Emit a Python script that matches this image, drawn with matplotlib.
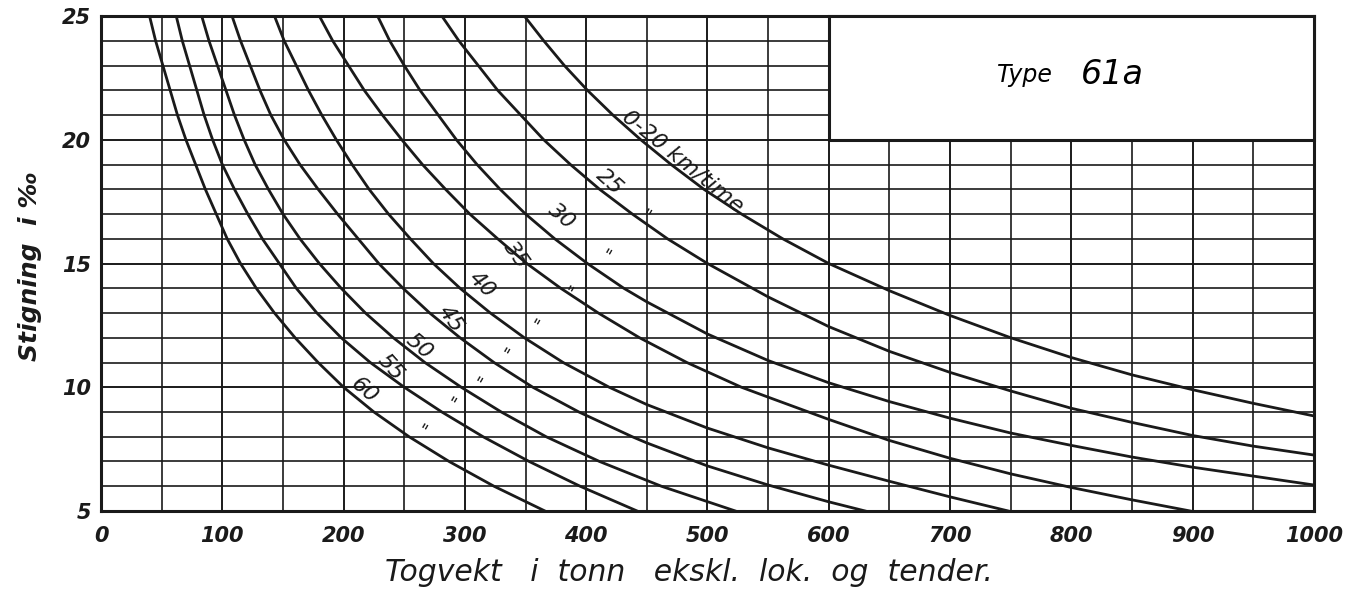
import matplotlib
matplotlib.use('Agg')
import matplotlib.pyplot as plt
from matplotlib.patches import Rectangle

# togvekt (tonn) og stigning (promille) for hver fart
grad = [25, 24, 23, 22, 21, 20, 19, 18, 17, 16, 15, 14, 13, 12, 11, 10, 9, 8, 7, 6, 5]
t_60 = [40, 45, 51, 57, 63, 70, 78, 86, 95, 104, 115, 128, 143, 160, 179, 200, 225, 254, 287, 324, 366]
t_55 = [62, 67, 73, 79, 85, 92, 100, 110, 121, 133, 147, 161, 178, 198, 222, 250, 281, 315, 353, 395, 442]
t_50 = [83, 89, 96, 103, 110, 118, 127, 138, 150, 164, 180, 198, 218, 241, 267, 297, 330, 367, 411, 462, 523]

t_45 = [108, 115, 123, 131, 140, 151, 164, 179, 195, 212, 229, 249, 271, 296, 324, 356, 394, 438,
        450, 500, 550, 600, 630]
g_45 = [25, 24, 23, 22, 21, 20, 19, 18, 17, 16, 15, 14, 13, 12, 11, 10, 9, 8,
        7.75, 6.82, 6.05, 5.37, 5]

t_40 = [143, 151, 161, 171, 182, 194, 207, 221, 237, 255, 274, 296, 321, 349, 381, 419,
        450, 500, 550, 600, 650, 700, 748]
g_40 = [25, 24, 23, 22, 21, 20, 19, 18, 17, 16, 15, 14, 13, 12, 11, 10,
        9.3, 8.35, 7.55, 6.85, 6.2, 5.57, 5]

t_35 = [180, 191, 204, 217, 232, 248, 265, 284, 304, 327, 351, 379, 410, 444, 483, 528,
        550, 600, 650, 700, 750, 800, 850, 898]
g_35 = [25, 24, 23, 22, 21, 20, 19, 18, 17, 16, 15, 14, 13, 12, 11, 10,
        9.6, 8.7, 7.85, 7.13, 6.5, 5.95, 5.45, 5]

t_30 = [228, 238, 250, 263, 278, 293, 310, 329, 350, 374, 401, 431,
        450, 500, 550, 600, 650, 700, 750, 800, 850, 900, 950, 1000]
g_30 = [25, 24, 23, 22, 21, 20, 19, 18, 17, 16, 15, 14,
        13.45, 12.15, 11.08, 10.18, 9.42, 8.75, 8.15, 7.65, 7.18, 6.77, 6.41, 6.05]

t_25 = [281, 295, 311, 327, 346, 365, 387, 411, 438, 467, 500,
        550, 600, 650, 700, 750, 800, 850, 900, 950, 1000]
g_25 = [25, 24, 23, 22, 21, 20, 19, 18, 17, 16, 15,
        13.65, 12.45, 11.45, 10.6, 9.85, 9.15, 8.58, 8.05, 7.62, 7.26]

t_20 = [349, 365, 382, 401, 422, 445, 470, 497, 528, 562, 600,
        650, 700, 750, 800, 850, 900, 950, 1000]
g_20 = [25, 24, 23, 22, 21, 20, 19, 18, 17, 16, 15,
        13.9, 12.9, 12.0, 11.2, 10.5, 9.9, 9.35, 8.84]

curves = [(t_60, grad), (t_55, grad), (t_50, grad), (t_45, g_45), (t_40, g_40),
          (t_35, g_35), (t_30, g_30), (t_25, g_25), (t_20, g_20)]

# kurvetekster: tekst, tonn, stigning, vinkel
labels = [('60', 217, 9.85, -40), ('55', 239, 10.8, -48), ('50', 262, 11.65, -40),
          ('45', 288, 12.75, -55), ('40', 314, 14.15, -45), ('35', 342, 15.35, -55),
          ('30', 380, 16.9, -40), ('25', 419, 18.3, -42)]
ditto = [(264, 8.2), (288, 9.3), (309, 10.1), (332, 11.3), (356, 12.45),
         (384, 13.8), (416, 15.3), (449, 16.9)]

ink = '#1a1a1a'

fig = plt.figure(figsize=(13.67, 5.98), dpi=100)
ax = fig.add_axes([0.0739, 0.1455, 0.8873, 0.8277])

ax.set_xlim(0, 1000)
ax.set_ylim(5, 25)
ax.set_xticks(range(0, 1001, 100))
ax.set_xticks(range(0, 1001, 50), minor=True)
ax.set_yticks([5, 10, 15, 20, 25])
ax.set_yticks(range(5, 26), minor=True)
ax.grid(which='major', color=ink, lw=1.4, zorder=1)
ax.grid(which='minor', color=ink, lw=1.2, zorder=1)
ax.tick_params(which='both', length=0)
ax.tick_params(axis='x', pad=11)
ax.tick_params(axis='y', pad=7)
for s in ax.spines.values():
    s.set_linewidth(2.2)
    s.set_color(ink)

for lab in ax.get_xticklabels() + ax.get_yticklabels():
    lab.set_fontstyle('italic')
    lab.set_fontweight('bold')
    lab.set_fontsize(15)
    lab.set_color(ink)

# tittelboks oppe til hoyre
ax.add_patch(Rectangle((600, 20), 400, 5, facecolor='white', edgecolor=ink,
                       lw=2.2, zorder=3, clip_on=False))
ax.text(762, 22.6, 'Type', fontsize=17, style='italic', ha='center', va='center', zorder=4)
ax.text(834, 22.65, '61a', fontsize=24, style='italic', ha='center', va='center', zorder=4)

for t, g in curves:
    ax.plot(t, g, color=ink, lw=2.0, zorder=2, solid_joinstyle='round')

for txt, x, y, rot in labels:
    ax.text(x, y, txt, fontsize=16, style='italic', rotation=rot, ha='center', va='center',
            rotation_mode='anchor', color=ink, zorder=4)
for x, y in ditto:
    ax.text(x, y, '"', fontsize=12, rotation=-30, ha='center', va='center',
            color=ink, zorder=4)
ax.text(480, 19.15, '0-20 km/time', fontsize=16, style='italic', rotation=-39,
        ha='center', va='center', rotation_mode='anchor', color=ink, zorder=4)

fig.text(0.5037, 0.042, 'Togvekt   i  tonn   ekskl.  lok.  og  tender.', fontsize=21.5,
         style='italic', ha='center', va='center', color=ink)
fig.text(0.022, 0.555, 'Stigning  i \u2030', fontsize=18, style='italic', fontweight='bold',
         rotation=90, ha='center', va='center', color=ink)

fig.savefig('out.png', dpi=100, facecolor='white')
